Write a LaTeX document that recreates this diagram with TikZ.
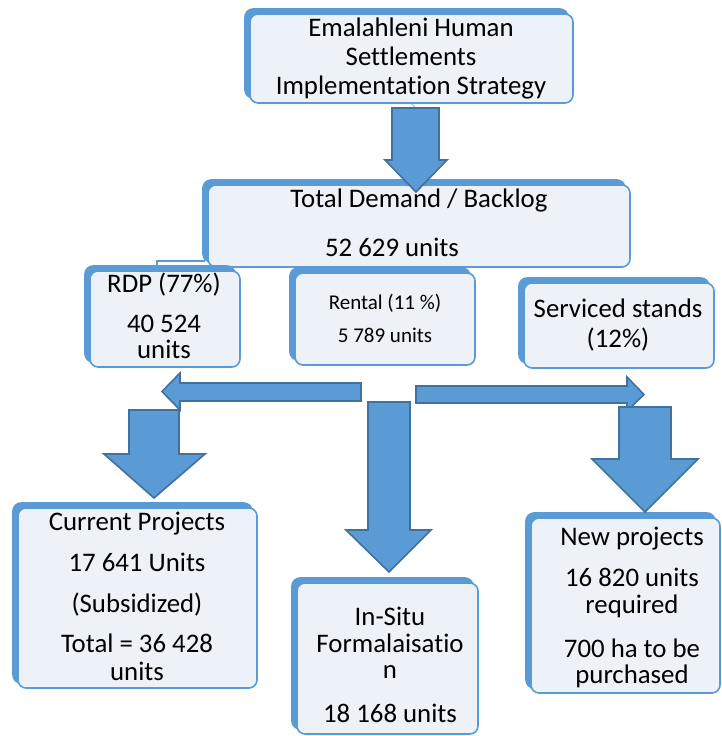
\documentclass[tikz,border=0pt]{standalone}
\usepackage{fontspec}
\setmainfont{Carlito}[Ligatures=NoCommon]
\usetikzlibrary{shadows}
\definecolor{boxblue}{HTML}{5B9BD5}
\definecolor{boxfill}{HTML}{EDF2F9}
\definecolor{arrowline}{HTML}{41719C}
\tikzset{
  sbox/.style={draw=boxblue, line width=1.6pt, fill=boxfill, rounded corners=8pt,
    inner sep=0pt,
    general shadow={fill=boxblue, draw=boxblue, shadow xshift=-5pt, shadow yshift=5pt}},
  txt/.style={anchor=base, inner sep=0pt, font=\fontsize{26.8}{32}\selectfont},
  smalltxt/.style={anchor=base, inner sep=0pt, font=\fontsize{21}{25}\selectfont},
  blockarrow/.style={fill=boxblue, draw=arrowline, line width=1.6pt, line join=miter}
}
\begin{document}
\begin{tikzpicture}[x=1pt,y=-1pt]
\useasboundingbox (0,0) rectangle (722,736);
% boxes
\node[sbox, minimum width=323pt, minimum height=89pt] (top) at (411.5,58.5) {};
\node[sbox, minimum width=422pt, minimum height=82pt] (total) at (419,226) {};
\draw[boxblue, line width=1.4pt] (157,267) -- (157,261) -- (205,261);
\node[sbox, minimum width=150pt, minimum height=96pt] (rdp) at (165,319) {};
\node[sbox, minimum width=180pt, minimum height=92pt] (rental) at (385,319) {};
\node[sbox, minimum width=190pt, minimum height=85pt] (serv) at (619,325.5) {};
\node[sbox, minimum width=239pt, minimum height=180pt] (cur) at (137.5,598) {};
\node[sbox, minimum width=181pt, minimum height=151pt] (insitu) at (387.5,658.5) {};
\node[sbox, minimum width=189pt, minimum height=175pt] (newp) at (625.5,605.5) {};
% texts
\node[txt] (t1) at (411,36) {Emalahleni Human};
\node[txt] (t2) at (411,65) {Settlements};
\node[txt] (t3) at (411,94) {Implementation Strategy};
\node[txt] (t4) at (419,207) {Total Demand / Backlog};
\node[txt] (t5) at (392,256) {52 629 units};
\node[txt] (t6) at (164,292) {RDP (77\%)};
\node[txt] (t7) at (164,332) {40 524};
\node[txt] (t8) at (164,358) {units};
\node[smalltxt] (t9) at (385,309) {Rental (11 \%)};
\node[smalltxt] (t10) at (385,342) {5 789 units};
\node[txt] (t11) at (618,317) {Serviced stands};
\node[txt] (t12) at (618,347) {(12\%)};
\node[txt] (t13) at (137,530) {Current Projects};
\node[txt] (t14) at (137,571) {17 641 Units};
\node[txt] (t15) at (137,612) {(Subsidized)};
\node[txt] (t16) at (137,652) {Total = 36 428};
\node[txt] (t17) at (137,680) {units};
\node[txt] (t18) at (390,625) {In-Situ};
\node[txt] (t19) at (390,652) {Formalaisatio};
\node[txt] (t20) at (390,678) {n};
\node[txt] (t21) at (390,722) {18 168 units};
\node[txt] (t22) at (632,545) {New projects};
\node[txt] (t23) at (632,586) {16 820 units};
\node[txt] (t24) at (632,613) {required};
\node[txt] (t25) at (632,657) {700 ha to be};
\node[txt] (t26) at (632,683) {purchased};
% block arrows
\draw[boxblue!60, line width=1pt] (top.south) -- (416,108);
\draw[blockarrow] (392,108) -- (439,108) -- (439,160) -- (447,160) -- (416,192) -- (385,160) -- (392,160) -- cycle;
\draw[blockarrow] (361,383) -- (361,401) -- (180,401) -- (180,410) -- (162,391.5) -- (180,373) -- (180,383) -- cycle;
\draw[blockarrow] (416,386) -- (627,386) -- (627,377) -- (644,394.5) -- (627,411) -- (627,403) -- (416,403) -- cycle;
\draw[blockarrow] (129,410) -- (179,410) -- (179,454) -- (205,454) -- (154,498) -- (104,454) -- (129,454) -- cycle;
\draw[blockarrow] (368,402) -- (410,402) -- (410,530) -- (431,530) -- (389,572) -- (346,530) -- (368,530) -- cycle;
\draw[blockarrow] (619,407) -- (671,407) -- (671,459) -- (698,459) -- (645,512) -- (592,459) -- (619,459) -- cycle;
\end{tikzpicture}
\end{document}
